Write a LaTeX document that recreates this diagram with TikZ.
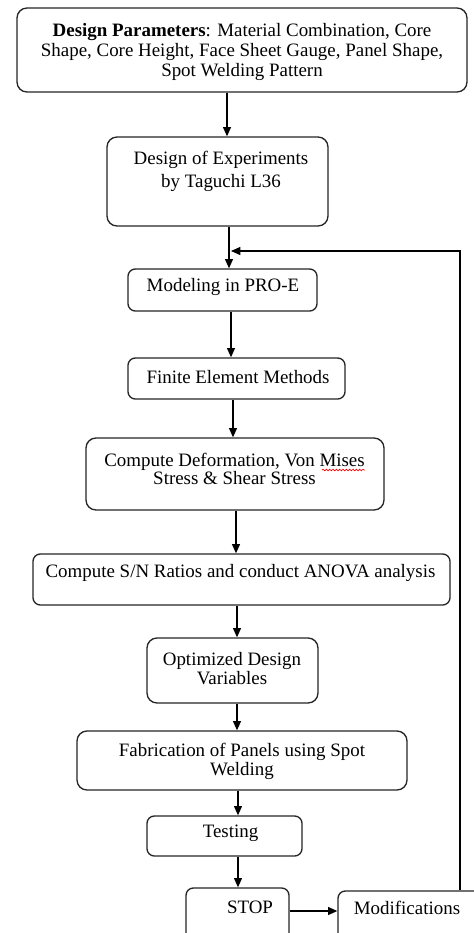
\documentclass[tikz,border=0pt]{standalone}
\usepackage{fontspec}
\setmainfont{Liberation Serif}
\usetikzlibrary{arrows.meta,fit,decorations.pathmorphing}
\begin{document}
\begin{tikzpicture}[x=0.75pt,y=-0.75pt,
  box/.style={draw=black!85, line width=1pt, rounded corners=5.5pt, inner sep=0pt},
  bigbox/.style={box, rounded corners=7.5pt},
  txt/.style={align=center, inner sep=0pt, font=\fontsize{14.2}{15}\selectfont},
  arr/.style={draw=black, line width=1pt, -{Triangle[length=7pt,width=6pt]}},
]
\clip (0,0) rectangle (474,933);
\fill[white] (0,0) rectangle (474,933);
% boxes
\node[bigbox, fit={(17,8) (467,92)}] (b1) {};
\node[bigbox, fit={(107,137) (328,226)}] (b2) {};
\node[box, fit={(128,269) (317,311)}] (b3) {};
\node[box, fit={(128,358) (345,399)}] (b4) {};
\node[bigbox, fit={(86,438) (384,510)}] (b5) {};
\node[box, fit={(33,554) (450,605)}] (b6) {};
\node[bigbox, fit={(147,638) (318,703)}] (b7) {};
\node[bigbox, fit={(77,731) (407,790)}] (b8) {};
\node[box, fit={(147,816) (302,856)}] (b9) {};
\node[box, fit={(186,888) (289,950)}] (b10) {};
\node[box, fit={(338,891) (495,950)}] (b11) {};
% texts
\node[txt, font=\fontsize{14.2}{15}\selectfont] (t1) at (242,52) {\textbf{Design Parameters}: Material Combination, Core\\Shape, Core Height, Face Sheet Gauge, Panel Shape,\\Spot Welding Pattern};
\node[txt, font=\fontsize{14.2}{17}\selectfont] (t2) at (221,171.5) {Design of Experiments\\by Taguchi L36};
\node[txt] (t3) at (223,287) {Modeling in PRO-E};
\node[txt] (t4) at (238,377) {Finite Element Methods};
\node[txt, font=\fontsize{14.2}{13.8}\selectfont] (t5) at (234.5,469) {Compute Deformation, Von Mises\\Stress \& Shear Stress};
\node[txt] (t6) at (240.5,573) {Compute S/N Ratios and conduct ANOVA analysis};
\node[txt, font=\fontsize{14.2}{14.3}\selectfont] (t7) at (232,668.5) {Optimized Design\\Variables};
\node[txt, font=\fontsize{14.2}{14.3}\selectfont] (t8) at (242,761.5) {Fabrication of Panels using Spot\\Welding};
\node[txt] (t9) at (230.5,833) {Testing};
\node[txt] (t10) at (250,907) {STOP};
\node[txt] (t11) at (407,908) {Modifications};
% spell-check squiggle under "Mises"
\draw[red, line width=0.5pt, decorate, decoration={snake, amplitude=0.6pt, segment length=2.5pt}] (322,470) -- (365,470);
% arrow columns
\coordinate (a1) at (227,0);
\coordinate (a2) at (229,0);
\coordinate (a3) at (231,0);
\coordinate (a4) at (233,0);
\coordinate (a5) at (236,0);
\coordinate (a6) at (237,0);
\coordinate (a7) at (237,0);
\coordinate (a8) at (238,0);
\coordinate (a9) at (238,0);
\coordinate (sy) at (0,911);
\coordinate (fx) at (460,0);
\coordinate (j) at (231,251);
\draw[arr] (b1.south -| a1) -- (b2.north -| a1);
\draw[arr] (b2.south -| a2) -- (b3.north -| a2);
\draw[arr] (b3.south -| a3) -- (b4.north -| a3);
\draw[arr] (b4.south -| a4) -- (b5.north -| a4);
\draw[arr] (b5.south -| a5) -- (b6.north -| a5);
\draw[arr] (b6.south -| a6) -- (b7.north -| a6);
\draw[arr] (b7.south -| a7) -- (b8.north -| a7);
\draw[arr] (b8.south -| a8) -- (b9.north -| a8);
\draw[arr] (b9.south -| a9) -- (b10.north -| a9);
\draw[arr] (b10.east |- sy) -- (b11.west |- sy);
\draw[arr] (b11.north -| fx) |- (j);
\end{tikzpicture}
\end{document}
